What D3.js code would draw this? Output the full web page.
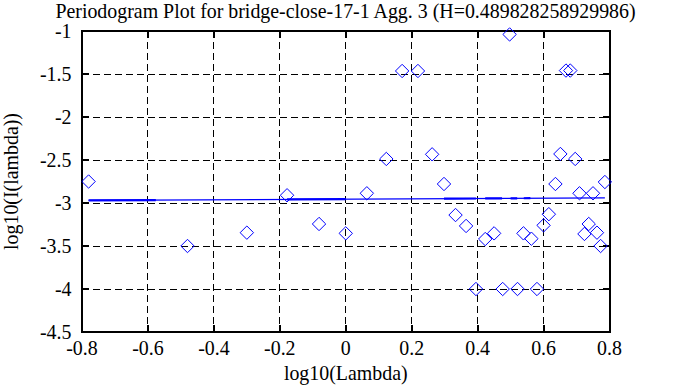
<!DOCTYPE html>
<html>
<head>
<meta charset="utf-8">
<script src="https://cdn.jsdelivr.net/npm/d3@7"></script>
<style>
  body { margin: 0; background: #fff; }
  text { font-family: "Liberation Serif", "Times New Roman", "DejaVu Serif", serif; fill: #000; }
</style>
</head>
<body>
<div id="chart"></div>
<script>
// periodogram points (log10 lambda, log10 I(lambda))
var logLambda = [-0.78, -0.48, -0.30, -0.178, -0.081, 0.0, 0.064, 0.123, 0.171, 0.219,
  0.262, 0.298, 0.333, 0.365, 0.395, 0.423, 0.45, 0.476, 0.497, 0.521,
  0.539, 0.563, 0.58, 0.6, 0.616, 0.636, 0.651, 0.668, 0.681, 0.696,
  0.709, 0.724, 0.737, 0.75, 0.762, 0.773, 0.786];
var logI = [-2.75, -3.50, -3.345, -2.91, -3.244, -3.353, -2.887, -2.488, -1.465, -1.465,
  -2.434, -2.779, -3.14, -3.267, -4.0, -3.419, -3.353, -4.0, -1.04, -4.0,
  -3.353, -3.415, -4.0, -3.26, -3.13, -2.779, -2.43, -1.46, -1.46, -2.488,
  -2.887, -3.36, -3.244, -2.887, -3.345, -3.5, -2.756];

// least squares line end points and the parts that look heavier
var fitX = [-0.78, 0.786];
var fitY = [-2.97, -2.94];
var fitThick = [[-0.78, -0.576], [-0.178, 0.0], [0.298, 0.395], [0.423, 0.474], [0.5, 0.52], [0.54, 0.56]];

var xTicks = [-0.8, -0.6, -0.4, -0.2, 0, 0.2, 0.4, 0.6, 0.8];
var xTickLabels = ['-0.8', '-0.6', '-0.4', '-0.2', '0', '0.2', '0.4', '0.6', '0.8'];
var yTicks = [-1, -1.5, -2, -2.5, -3, -3.5, -4, -4.5];
var yTickLabels = ['-1', '-1.5', '-2', '-2.5', '-3', '-3.5', '-4', '-4.5'];

var titleText = 'Periodogram Plot for bridge-close-17-1 Agg. 3 (H=0.489828258929986)';

var svgWidth = 688;
var svgHeight = 387;
var margin = { top: 31, right: 78.5, bottom: 55, left: 82 };
var width = svgWidth - margin.left - margin.right;
var height = svgHeight - margin.top - margin.bottom;
var fontSize = '19.9px';

var svg = d3.select('#chart').append('svg')
  .attr('width', svgWidth)
  .attr('height', svgHeight)
  .attr('font-family', '"Liberation Serif", "Times New Roman", serif');

svg.append('rect')
  .attr('width', svgWidth)
  .attr('height', svgHeight)
  .attr('fill', '#fff');

var chartGroup = svg.append('g')
  .attr('transform', `translate(${margin.left}, ${margin.top})`);

var x = d3.scaleLinear().domain([-0.8, 0.8]).range([0, width]);
var y = d3.scaleLinear().domain([-4.5, -1]).range([height, 0]);

// dashed grid (skip the ones sitting on the frame)
chartGroup.selectAll('.vgrid')
  .data(xTicks.slice(1, -1))
  .enter()
  .append('line')
  .attr('x1', d => x(d)).attr('x2', d => x(d))
  .attr('y1', 0).attr('y2', height)
  .attr('stroke', '#000')
  .attr('stroke-width', 1)
  .attr('stroke-dasharray', '7,4')
  .attr('shape-rendering', 'crispEdges');

chartGroup.selectAll('.hgrid')
  .data(yTicks.slice(1, -1))
  .enter()
  .append('line')
  .attr('x1', 0).attr('x2', width)
  .attr('y1', d => y(d)).attr('y2', d => y(d))
  .attr('stroke', '#000')
  .attr('stroke-width', 1)
  .attr('stroke-dasharray', '7,4')
  .attr('shape-rendering', 'crispEdges');

// inward ticks on all four sides
var tickLen = 7;
var tickStyle = function(sel) {
  sel.attr('stroke', '#000').attr('stroke-width', 2).attr('shape-rendering', 'crispEdges');
};
xTicks.forEach(function(t) {
  chartGroup.append('line').attr('x1', x(t)).attr('x2', x(t)).attr('y1', height).attr('y2', height - tickLen).call(tickStyle);
  chartGroup.append('line').attr('x1', x(t)).attr('x2', x(t)).attr('y1', 0).attr('y2', tickLen).call(tickStyle);
});
yTicks.forEach(function(t) {
  chartGroup.append('line').attr('x1', 0).attr('x2', tickLen).attr('y1', y(t)).attr('y2', y(t)).call(tickStyle);
  chartGroup.append('line').attr('x1', width).attr('x2', width - tickLen).attr('y1', y(t)).attr('y2', y(t)).call(tickStyle);
});

// frame
chartGroup.append('rect')
  .attr('x', 0).attr('y', 0)
  .attr('width', width).attr('height', height)
  .attr('fill', 'none')
  .attr('stroke', '#000')
  .attr('stroke-width', 2)
  .attr('shape-rendering', 'crispEdges');

// tick labels
chartGroup.selectAll('.xlab')
  .data(xTicks)
  .enter()
  .append('text')
  .attr('x', d => x(d))
  .attr('y', height + 23)
  .attr('text-anchor', 'middle')
  .style('font-size', fontSize)
  .text((d, i) => xTickLabels[i]);

chartGroup.selectAll('.ylab')
  .data(yTicks)
  .enter()
  .append('text')
  .attr('x', -10.5)
  .attr('y', d => y(d))
  .attr('dy', '0.34em')
  .attr('text-anchor', 'end')
  .style('font-size', fontSize)
  .text((d, i) => yTickLabels[i]);

// fitted line
var line = d3.line().x(d => x(d[0])).y(d => y(d[1]));
var fitPts = fitX.map((v, i) => [v, fitY[i]]);
chartGroup.append('path')
  .attr('d', line(fitPts))
  .attr('fill', 'none')
  .attr('stroke', '#0000ff')
  .attr('stroke-width', 1.2);

var fitAt = d3.scaleLinear().domain(fitX).range(fitY);
chartGroup.selectAll('.thick')
  .data(fitThick)
  .enter()
  .append('path')
  .attr('d', d => line([[d[0], fitAt(d[0])], [d[1], fitAt(d[1])]]))
  .attr('fill', 'none')
  .attr('stroke', '#0000ff')
  .attr('stroke-width', 2.2);

// diamonds
var pts = logLambda.map((v, i) => [v, logI[i]]);
var r = 6.7;
chartGroup.selectAll('.pt')
  .data(pts)
  .enter()
  .append('path')
  .attr('transform', d => `translate(${x(d[0])}, ${y(d[1])})`)
  .attr('d', `M0,${-r}L${r},0L0,${r}L${-r},0Z`)
  .attr('fill', 'none')
  .attr('stroke', '#0000ff')
  .attr('stroke-width', 1);

// title and axis titles
svg.append('text')
  .attr('x', 345.5)
  .attr('y', 17.5)
  .attr('text-anchor', 'middle')
  .style('font-size', fontSize)
  .text(titleText);

svg.append('text')
  .attr('x', margin.left + width / 2)
  .attr('y', 380)
  .attr('text-anchor', 'middle')
  .style('font-size', fontSize)
  .text('log10(Lambda)');

svg.append('text')
  .attr('transform', `translate(17.5, ${margin.top + height / 2}) rotate(-90)`)
  .attr('text-anchor', 'middle')
  .style('font-size', fontSize)
  .text('log10(I(lambda))');
</script>
</body>
</html>
